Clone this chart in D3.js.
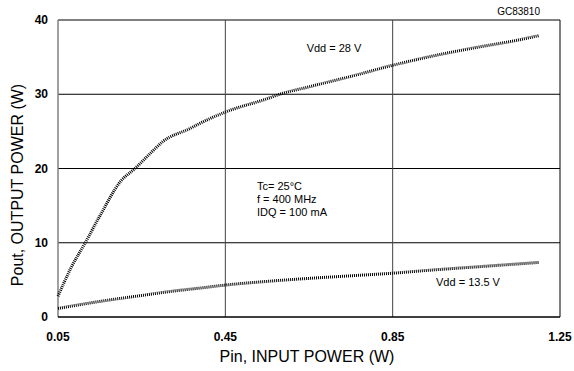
<!DOCTYPE html>
<html>
<head>
<meta charset="utf-8">
<script src="https://cdnjs.cloudflare.com/ajax/libs/d3/7.8.5/d3.min.js"></script>
<style>
  body { margin: 0; background: #fff; }
  text { font-family: Arial, "Liberation Sans", sans-serif; }
</style>
</head>
<body>
<div id="chart"></div>
<script>
// Pin (W) samples
const pin28 = [0.05, 0.08, 0.115, 0.15, 0.2, 0.234, 0.27, 0.3, 0.366, 0.39, 0.45, 0.55, 0.58, 0.65, 0.707, 0.75, 0.85, 0.95, 1.05, 1.15, 1.2];
const pout28 = [2.8, 6.5, 10, 13.6, 18.3, 20, 22, 23.6, 25.4, 26.1, 27.6, 29.4, 30, 31.0, 31.8, 32.4, 33.9, 35.2, 36.3, 37.3, 37.9];
const pin135 = [0.05, 0.15, 0.25, 0.32, 0.39, 0.45, 0.55, 0.65, 0.75, 0.85, 0.95, 1.05, 1.2];
const pout135 = [1.15, 2.1, 2.9, 3.45, 3.9, 4.3, 4.8, 5.2, 5.55, 5.9, 6.35, 6.75, 7.35];
const xTicks = [0.05, 0.45, 0.85, 1.25];
const yTicks = [0, 10, 20, 30, 40];
const notes = ['Tc= 25°C', 'f = 400 MHz', 'IDQ = 100 mA'];

const W = 574, H = 371;
const margin = { top: 20, right: 14, bottom: 54, left: 58 };
const width = 560 - margin.left;
const height = 317 - margin.top;

const svg = d3.select('#chart').append('svg')
  .attr('width', W).attr('height', H);
const g = svg.append('g')
  .attr('transform', `translate(${margin.left},${margin.top})`);

const x = d3.scaleLinear().domain([0.05, 1.25]).range([0, width]);
const y = d3.scaleLinear().domain([0, 40]).range([height, 0]);

// grid
g.selectAll('.hgrid').data(yTicks.filter(d => d > 0)).enter().append('line')
  .attr('x1', 0).attr('x2', width)
  .attr('y1', d => y(d)).attr('y2', d => y(d))
  .attr('stroke', '#000').attr('stroke-width', 1);
g.selectAll('.vgrid').data(xTicks.slice(1)).enter().append('line')
  .attr('x1', d => x(d)).attr('x2', d => x(d))
  .attr('y1', 0).attr('y2', height)
  .attr('stroke', d => d === 1.25 ? '#000' : '#444').attr('stroke-width', 1);

// axes lines
g.append('line').attr('x1', 0).attr('x2', 0).attr('y1', 0).attr('y2', height)
  .attr('stroke', '#808080').attr('stroke-width', 1.5);
g.append('line').attr('x1', 0).attr('x2', width).attr('y1', height).attr('y2', height)
  .attr('stroke', '#000').attr('stroke-width', 1.5);

// tick labels
g.selectAll('.xt').data(xTicks).enter().append('text')
  .attr('x', d => x(d)).attr('y', height + 24)
  .attr('text-anchor', 'middle')
  .style('font-size', '12px').style('font-weight', 'bold')
  .text(d => d.toFixed(2));
g.selectAll('.yt').data(yTicks).enter().append('text')
  .attr('x', -10).attr('y', d => y(d) + 4)
  .attr('text-anchor', 'end')
  .style('font-size', '12px').style('font-weight', 'bold')
  .text(d => d);

// axis titles
g.append('text')
  .attr('x', 307 - margin.left).attr('y', 362 - margin.top)
  .attr('text-anchor', 'middle')
  .style('font-size', '16px')
  .text('Pin, INPUT POWER (W)');
g.append('text')
  .attr('transform', 'rotate(-90)')
  .attr('x', -(185 - margin.top)).attr('y', 23 - margin.left)
  .attr('text-anchor', 'middle')
  .style('font-size', '16px')
  .text('Pout, OUTPUT POWER (W)');

// curves
const line = d3.line().curve(d3.curveMonotoneX);
const drawCurve = (xs, ys) => {
  g.append('path')
    .datum(xs.map((d, i) => [x(d), y(ys[i])]))
    .attr('d', line)
    .attr('fill', 'none')
    .attr('stroke', '#000')
    .attr('stroke-width', 3)
    .attr('stroke-dasharray', '1,1');
};
drawCurve(pin28, pout28);
drawCurve(pin135, pout135);

// annotations
svg.append('text').attr('x', 334).attr('y', 52)
  .attr('text-anchor', 'middle').style('font-size', '11px').text('Vdd = 28 V');
svg.append('text').attr('x', 468).attr('y', 286)
  .attr('text-anchor', 'middle').style('font-size', '11px').text('Vdd = 13.5 V');
svg.append('text').attr('x', 540).attr('y', 15)
  .attr('text-anchor', 'end').style('font-size', '10px').text('GC83810');
svg.selectAll('.note').data(notes).enter().append('text')
  .attr('x', 257).attr('y', (d, i) => 190 + i * 13)
  .style('font-size', '11px')
  .text(d => d);
</script>
</body>
</html>
